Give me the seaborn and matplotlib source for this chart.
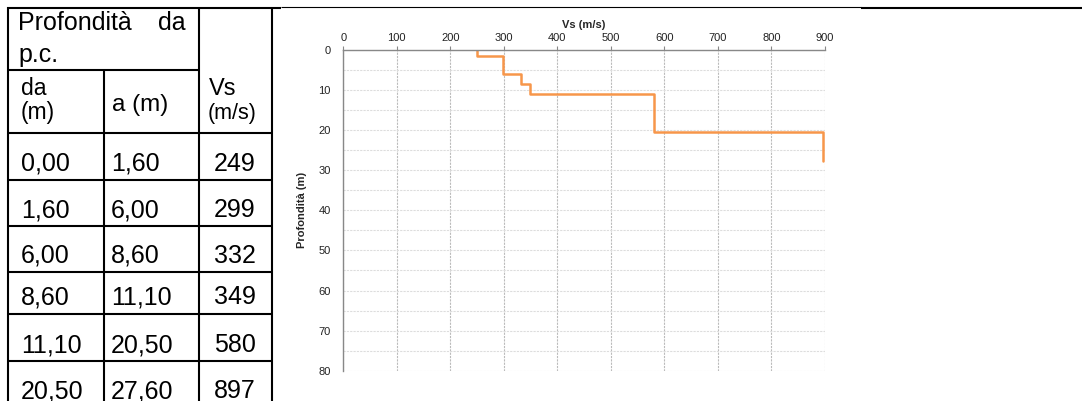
import matplotlib
matplotlib.use("Agg")
import matplotlib.pyplot as plt
from matplotlib.lines import Line2D
import seaborn as sns

# ---- data ----
depth_from = [0.00, 1.60, 6.00, 8.60, 11.10, 20.50]
depth_to = [1.60, 6.00, 8.60, 11.10, 20.50, 27.60]
vs_values = [249, 299, 332, 349, 580, 897]
from_labels = ["0,00", "1,60", "6,00", "8,60", "11,10", "20,50"]
to_labels = ["1,60", "6,00", "8,60", "11,10", "20,50", "27,60"]
vs_labels = ["249", "299", "332", "349", "580", "897"]
x_ticks = [0, 100, 200, 300, 400, 500, 600, 700, 800, 900]
y_ticks = [0, 10, 20, 30, 40, 50, 60, 70, 80]

sns.set_style("white")
plt.rcParams["font.family"] = ["Liberation Sans", "DejaVu Sans"]

W, H = 1082, 401
fig = plt.figure(figsize=(W / 100, H / 100), dpi=100)


def fx(x):
    return x / W


def fy(y):
    return 1 - y / H


def hline(y, x0, x1, lw=1.5):
    fig.add_artist(Line2D([fx(x0), fx(x1)], [fy(y), fy(y)], transform=fig.transFigure,
                          color="black", lw=lw, solid_capstyle="butt"))


def vline(x, y0, y1, lw=1.5):
    fig.add_artist(Line2D([fx(x), fx(x)], [fy(y0), fy(y1)], transform=fig.transFigure,
                          color="black", lw=lw, solid_capstyle="butt"))


def txt(x, y, s, size=18, ha="left"):
    fig.text(fx(x), fy(y), s, fontsize=size, ha=ha, va="baseline", color="black")


# ---- table lines ----
hline(7.5, 6.5, 281)
hline(7, 281, 861, lw=0.8)
hline(7.5, 861, 1082)
vline(7.5, 6.5, 401)
vline(199, 6.5, 401)
vline(272, 6.5, 401)
vline(104, 70, 401)
hline(70, 6.5, 199)
row_lines = [133, 180, 226, 272, 314, 361]
for r in row_lines:
    hline(r, 6.5, 272)

# ---- table text ----
txt(18, 30, "Profondità")
txt(186, 30, "da", ha="right")
txt(18, 62, "p.c.")
txt(21, 95, "da", size=16.5)
txt(21, 119, "(m)", size=16.5)
txt(112, 111, "a (m)", size=17.5)
txt(209, 95, "Vs", size=17)
txt(208, 119, "(m/s)", size=15.5)

baselines = [171, 217, 263, 304, 352, 398]
for i in range(len(vs_labels)):
    txt(21, baselines[i], from_labels[i])
    txt(111, baselines[i], to_labels[i])
    txt(214, baselines[i], vs_labels[i])

# ---- chart ----
ax = fig.add_axes([343.3 / W, 1 - 370.7 / H, (825 - 343.3) / W, (370.7 - 50) / H])

xs, ys = [], []
for v, a, b in zip(vs_values, depth_from, depth_to):
    xs += [v, v]
    ys += [a, b]
sns.lineplot(x=xs, y=ys, sort=False, estimator=None, ax=ax, color="#F7964A", lw=1.8)

ax.set_xlim(0, 900)
ax.set_ylim(80, 0)
ax.set_xticks(x_ticks)
ax.set_yticks(y_ticks)
ax.set_yticks([5, 15, 25, 35, 45, 55, 65, 75], minor=True)
ax.xaxis.tick_top()
ax.xaxis.set_label_position("top")
ax.tick_params(axis="x", which="major", labelsize=8, length=3, width=0.8, color="#888888",
               pad=2, labelcolor="#222222")
ax.tick_params(axis="y", which="major", labelsize=8, length=4, width=0.8, color="#888888",
               pad=5, labelcolor="#222222")
ax.tick_params(axis="y", which="minor", length=0)
ax.grid(axis="x", which="major", color="#bbbbbb", ls=(0, (2, 1)), lw=0.8)
ax.grid(axis="y", which="both", color="#dddddd", ls=(0, (2, 1)), lw=0.8)
for s in ["right", "bottom"]:
    ax.spines[s].set_visible(False)
for s in ["left", "top"]:
    ax.spines[s].set_color("#888888")
    ax.spines[s].set_linewidth(1.0)
ax.set_xlabel("Vs (m/s)", fontsize=8, fontweight="bold", labelpad=4)
ax.set_ylabel("Profondità (m)", fontsize=8, fontweight="bold", labelpad=8)
ax.set_axisbelow(True)

fig.savefig("out.png", dpi=100)
